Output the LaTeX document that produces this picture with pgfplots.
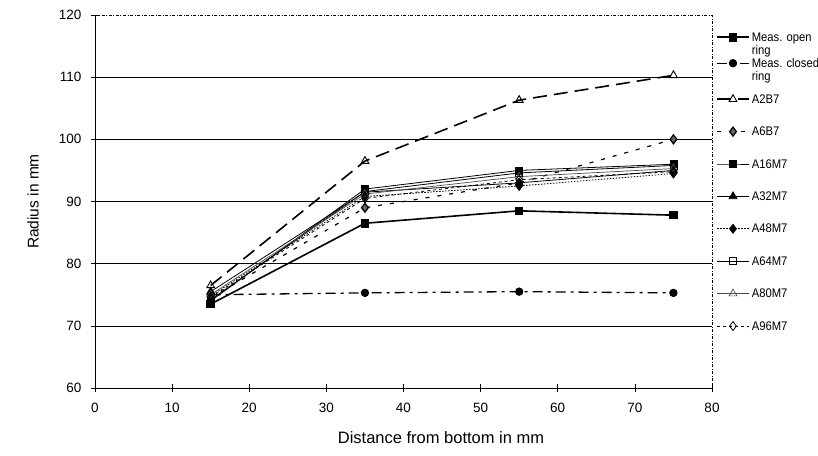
\documentclass[border=0pt]{standalone}
\usepackage{fontspec}
\setmainfont{Liberation Sans}
\newfontfamily\legendfamily{Liberation Sans}[FakeStretch=0.9]
\usepackage{pgfplots}
\pgfplotsset{compat=1.18}
\newcommand{\tickfont}{\fontsize{13.5}{16}\selectfont}
\newcommand{\legfont}{\legendfamily\fontsize{12.5}{13}\selectfont}
\newcommand{\titlefont}{\fontsize{16.5}{19}\selectfont}
\newcommand{\ytitlefont}{\fontsize{15.5}{18}\selectfont}
\newcommand{\two}[2]{\begin{tabular}[t]{@{}l@{}}#1\\#2\end{tabular}}
\begin{document}
\begin{tikzpicture}
\path[use as bounding box] (-95pt,-67pt) rectangle (723pt,388pt);
\begin{axis}[
  scale only axis, width=617pt, height=373pt,
  at={(0pt,0pt)}, anchor=south west,
  xmin=0, xmax=80, ymin=60, ymax=120,
  xtick={0,10,...,80}, ytick={60,70,...,120},
  axis lines=left,
  axis line style={-, black, line width=0.8pt},
  tick align=center, major tick length=8pt,
  tick style={black, line width=0.6pt},
  extra y ticks={70,80,90,100,110}, extra y tick labels={},
  extra y tick style={grid=major, major tick length=0pt},
  grid style={black, line width=0.6pt, solid},
  /pgf/number format/assume math mode=true,
  ticklabel style={font=\tickfont},
  yticklabel style={xshift=-6pt},
  xticklabel style={yshift=-8pt},
  xlabel={Distance from bottom in mm},
  ylabel={Radius in mm},
  xlabel style={font=\titlefont, at={(axis description cs:0.5608,-0.134)}, anchor=center},
  ylabel style={font=\ytitlefont, at={(axis description cs:-0.1005,0.50)}, anchor=center},
  legend cell align=left,
  legend style={at={(axis description cs:1,1)}, anchor=north west, xshift=4pt, yshift=-15.8pt,
    draw=none, fill=none, inner sep=0pt, row sep=0pt, column sep=2pt,
    nodes={inner sep=0pt}, font=\legfont},
  legend image code/.code={\draw[mark repeat=2,mark phase=2,#1] plot coordinates {(0pt,0pt) (16pt,0pt) (32pt,0pt)};},
  extra description/.code={\draw[black, line width=0.5pt, dash pattern=on 3pt off 1.5pt on 1pt off 1.5pt] (0,1) -- (1,1) -- (1,0);},
]
% Meas. open ring
\addplot[black, line width=1.6pt, mark=square*, mark size=3.5pt, mark options={solid}]
  coordinates {(15,73.5) (35,86.5) (55,88.5) (75,87.8)};
\addlegendentry[text height=10.3pt, text depth=2.1pt]{\two{Meas. open}{ring}}
% Meas. closed ring
\addplot[black, line width=1.3pt, dash pattern=on 10pt off 5pt on 3pt off 5pt, mark=*, mark size=3.5pt, mark options={solid}]
  coordinates {(15,75.0) (35,75.3) (55,75.5) (75,75.3)};
\addlegendentry[text height=23.9pt, text depth=15.7pt]{\two{Meas. closed}{ring}}
% A2B7
\addplot[black, line width=1.6pt, dash pattern=on 14pt off 7pt, mark=triangle, mark size=4.5pt, mark options={solid, line width=0.9pt, fill=white}]
  coordinates {(15,76.5) (35,96.5) (55,106.3) (75,110.3)};
\addlegendentry[text height=20.3pt, text depth=12.1pt]{A2B7}
% A6B7
\addplot[black, line width=1.2pt, dash pattern=on 4pt off 8pt, mark=diamond*, mark size=4.5pt, mark options={solid, fill=black!60}]
  coordinates {(15,74.5) (35,89.0) (55,93.0) (75,100.0)};
\addlegendentry[text height=20.3pt, text depth=12.1pt]{A6B7}
% A16M7
\addplot[black, line width=0.8pt, mark=square*, mark size=3.5pt, mark options={solid}]
  coordinates {(15,74.0) (35,92.0) (55,95.0) (75,96.0)};
\addlegendentry[text height=20.3pt, text depth=12.1pt]{A16M7}
% A32M7
\addplot[black, line width=0.8pt, mark=triangle*, mark size=4.5pt, mark options={solid}]
  coordinates {(15,75.5) (35,91.5) (55,93.0) (75,95.0)};
\addlegendentry[text height=20.3pt, text depth=12.1pt]{A32M7}
% A48M7
\addplot[black, line width=0.8pt, dash pattern=on 1.5pt off 1.5pt, mark=diamond*, mark size=4.5pt, mark options={solid}]
  coordinates {(15,74.8) (35,90.8) (55,92.5) (75,94.5)};
\addlegendentry[text height=20.3pt, text depth=12.1pt]{A48M7}
% A64M7
\addplot[black, line width=0.8pt, mark=square, mark size=3.5pt, mark options={solid, fill=white}]
  coordinates {(15,74.2) (35,91.6) (55,94.6) (75,95.8)};
\addlegendentry[text height=20.3pt, text depth=12.1pt]{A64M7}
% A80M7
\addplot[black!70, line width=0.7pt, mark=triangle, mark size=4.5pt, mark options={solid, fill=white}]
  coordinates {(15,75.0) (35,91.2) (55,94.0) (75,95.3)};
\addlegendentry[text height=20.3pt, text depth=12.1pt]{A80M7}
% A96M7
\addplot[black, line width=0.8pt, dash pattern=on 3pt off 3pt, mark=diamond, mark size=4.5pt, mark options={solid, fill=white}]
  coordinates {(15,74.6) (35,90.5) (55,93.5) (75,94.8)};
\addlegendentry[text height=20.3pt, text depth=12.1pt]{A96M7}
\end{axis}
\end{tikzpicture}
\end{document}
